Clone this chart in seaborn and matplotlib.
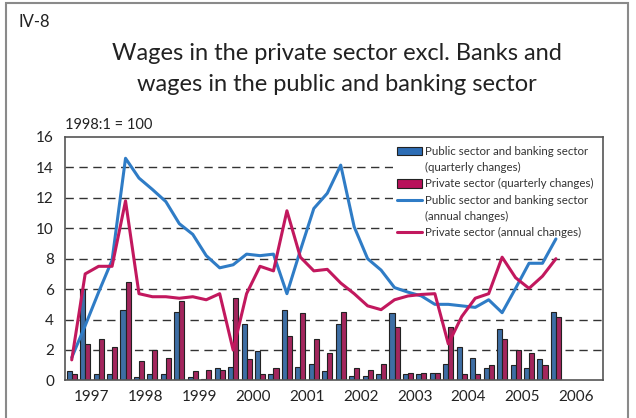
import numpy as np
import pandas as pd
import matplotlib
matplotlib.use("Agg")
import matplotlib.pyplot as plt
from matplotlib.patches import Rectangle, Patch
from matplotlib.lines import Line2D
import seaborn as sns

sns.set_theme(style="white")
plt.rcParams['font.family'] = ['Lato', 'DejaVu Sans']

# ---- data (1997Q1 .. 2006Q1) ----
years = ["1997", "1998", "1999", "2000", "2001", "2002", "2003", "2004", "2005", "2006"]
quarters = [f"{y}Q{q}" for y in range(1997, 2006) for q in range(1, 5)] + ["2006Q1"]

public_q = [0.6, 6.0, 0.45, 0.4,
            4.6, 0.2, 0.4, 0.4,
            4.5, 0.25, 0.07, 0.8,
            0.9, 3.7, 1.9, 0.45,
            4.6, 0.9, 1.07, 0.6,
            3.7, 0.26, 0.26, 0.4,
            4.4, 0.4, 0.4, 0.48,
            1.07, 2.2, 1.47, 0.8,
            3.4, 1.0, 0.8, 1.4,
            4.5]
private_q = [0.4, 2.4, 2.7, 2.2,
             6.5, 1.3, 2.0, 1.45,
             5.2, 0.6, 0.7, 0.7,
             5.4, 1.4, 0.45, 0.8,
             2.9, 4.4, 2.7, 1.8,
             4.5, 0.8, 0.7, 1.07,
             3.5, 0.48, 0.48, 0.48,
             3.5, 0.4, 0.4, 1.0,
             2.7, 2.0, 1.8, 1.0,
             4.2]
public_a = [1.5, 3.6, 5.8, 7.9,
            14.6, 13.3, 12.55, 11.75,
            10.3, 9.6, 8.2, 7.4,
            7.6, 8.3, 8.2, 8.3,
            5.7, 8.55, 11.3, 12.3,
            14.15, 10.1, 8.0, 7.25,
            6.1, 5.8, 5.55, 5.0,
            5.0, 4.9, 4.8, 5.3,
            4.45, 6.05, 7.7, 7.7,
            9.3]
private_a = [1.35, 7.0, 7.5, 7.5,
             11.8, 5.7, 5.5, 5.5,
             5.4, 5.5, 5.3, 5.7,
             2.0, 5.7, 7.5, 7.2,
             11.15, 8.1, 7.2, 7.3,
             6.4, 5.7, 4.9, 4.65,
             5.3, 5.55, 5.65, 5.7,
             2.4, 4.2, 5.4, 5.7,
             8.1, 6.75, 6.05, 6.85,
             8.0]

lab_pub_q = "Public sector and banking sector (quarterly changes)"
lab_pri_q = "Private sector (quarterly changes)"
legend_rows = ["Public sector and banking sector", "(quarterly changes)",
               "Private sector (quarterly changes)",
               "Public sector and banking sector", "(annual changes)",
               "Private sector (annual changes)"]

BLUE_BAR = "#2d6db5"
PINK_BAR = "#b8115a"
BLUE_LINE = "#2f7cc6"
PINK_LINE = "#c2185e"

n = len(quarters)
idx = np.arange(n)
df = pd.DataFrame({
    "q": np.concatenate([idx, idx]),
    "value": public_q + private_q,
    "series": [lab_pub_q] * n + [lab_pri_q] * n,
})

fig = plt.figure(figsize=(6.36, 4.18), dpi=100)
ax = fig.add_axes([65/636, 1-380.4/418, (603-65)/636, (380.4-137)/418])
ax.set_axisbelow(True)

# dashed grid lines
for v in range(2, 16, 2):
    ax.axhline(v, color="#333333", lw=1.0, ls=(0, (6, 4)), zorder=0.5)

sns.barplot(data=df, x="q", y="value", hue="series",
            hue_order=[lab_pub_q, lab_pri_q], palette=[BLUE_BAR, PINK_BAR],
            width=0.75, edgecolor="#222222", linewidth=0.8,
            legend=False, ax=ax, zorder=2)

sns.lineplot(x=idx, y=public_a, color=BLUE_LINE, lw=2.2, ax=ax, zorder=3)
sns.lineplot(x=idx, y=private_a, color=PINK_LINE, lw=2.2, ax=ax, zorder=3)

ax.set_xlim(-0.5, 39.5)
ax.set_ylim(0, 16)

# white legend area covering grid
x0 = (393 - 65) / (603 - 65)
y0 = (380.4 - 246) / (380.4 - 137)
ax.add_patch(Rectangle((x0, y0), 1 - x0, 1 - y0, transform=ax.transAxes,
                       facecolor="white", edgecolor="none", zorder=1))

# axes styling
for s in ax.spines.values():
    s.set_color("#555555")
    s.set_linewidth(1.2)
ax.set_yticks(range(0, 17, 2))
ax.set_yticklabels([str(v) for v in range(0, 17, 2)], fontsize=11, color="#222222")
ax.tick_params(axis="y", length=0, pad=8)

ax.set_xticks([-0.5 + 4 * k for k in range(11)])
ax.set_xticklabels([])
ax.tick_params(axis="x", which="major", length=6, width=1.2, color="#555555", direction="out")
ax.set_xticks([1.5 + 4 * k for k in range(10)], minor=True)
ax.set_xticklabels(years, minor=True, fontsize=11, color="#222222")
ax.tick_params(axis="x", which="minor", length=0, pad=7)
ax.set_xlabel("")
ax.set_ylabel("")

blank = Line2D([], [], color="none")
handles = [
    Patch(facecolor=BLUE_BAR, edgecolor="#222222", linewidth=0.8), blank,
    Patch(facecolor=PINK_BAR, edgecolor="#222222", linewidth=0.8),
    Line2D([], [], color=BLUE_LINE, lw=2.2), blank,
    Line2D([], [], color=PINK_LINE, lw=2.2),
]
leg = ax.legend(handles, legend_rows,
                loc="upper left", bbox_to_anchor=((397-65)/(603-65), (380.4-146)/(380.4-137)),
                frameon=False, fontsize=8.3, handlelength=2.2, handleheight=0.75,
                handletextpad=0.25, labelspacing=0.45, borderaxespad=0, borderpad=0)
for t in leg.get_texts():
    t.set_color("#333333")

# titles and texts
fig.text(337/636, 1 - 69/418, "Wages in the private sector excl. Banks and\nwages in the public and banking sector",
         ha="center", va="center", fontsize=17, color="#222222", linespacing=1.6)
fig.text(18/636, 1 - 22/418, "IV-8", ha="left", va="center", fontsize=12, color="#222222")
fig.text(65/636, 1 - 125/418, "1998:1 = 100", ha="left", va="center", fontsize=10.5, color="#222222")

# outer frame
fig.add_artist(Rectangle((6/636, -0.05), (628-6)/636, 1.05 - 3/418, transform=fig.transFigure,
                         facecolor="none", edgecolor="#8a8a8a", lw=1.5))

fig.savefig("out.png", dpi=100)
